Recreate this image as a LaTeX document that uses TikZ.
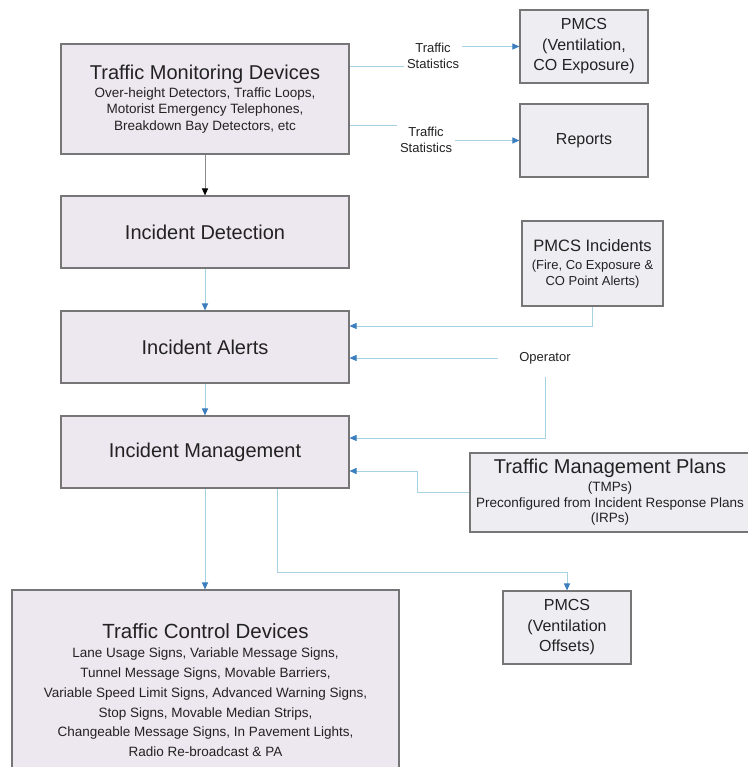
\documentclass[tikz,border=0pt]{standalone}
\usepackage{fontspec}
\setmainfont{Liberation Sans}
\usetikzlibrary{arrows.meta,backgrounds}

\definecolor{boxfill}{HTML}{EDE7F0}
\definecolor{sidefill}{HTML}{EEEDF2}
\definecolor{boxline}{HTML}{767676}
\definecolor{linkblue}{HTML}{A6D2E2}
\definecolor{tipblue}{HTML}{3C7DBE}
\definecolor{inkgray}{HTML}{222222}
\definecolor{darklink}{HTML}{8A8A8A}

\newcommand\fsz[2]{\fontsize{#1}{#2}\selectfont}

\begin{document}
\begin{tikzpicture}[x=1pt,y=-1pt,
  box/.style={draw=boxline, line width=1.1pt, fill=boxfill, text=inkgray,
    align=center, inner sep=0pt},
  sidebox/.style={box, fill=sidefill},
  flow/.style={draw=linkblue, line width=1pt,
    -{Triangle[length=7pt,width=6pt,color=tipblue]}},
  darkflow/.style={draw=darklink, line width=1pt,
    -{Triangle[length=7pt,width=6pt,color=black]}},
  lbl/.style={fill=white, text=inkgray, align=center, inner xsep=3pt,
    inner ysep=2pt, font=\fsz{13}{16}},
]
\useasboundingbox (0,0) rectangle (747,767);

% main column
\node[box, minimum width=288pt, minimum height=110pt, font=\fsz{13.5}{16.5}]
  (tmd) at (205,99) {{\fsz{20}{24}Traffic Monitoring Devices}\\[1pt]
  Over-height Detectors, Traffic Loops,\\
  Motorist Emergency Telephones,\\
  Breakdown Bay Detectors, etc};
\node[box, minimum width=288pt, minimum height=72pt, font=\fsz{20}{24}]
  (id) at (205,232) {Incident Detection};
\node[box, minimum width=288pt, minimum height=72pt, font=\fsz{20}{24}]
  (ia) at (205,347) {Incident Alerts};
\node[box, minimum width=288pt, minimum height=72pt, font=\fsz{20}{24}]
  (im) at (205,452) {Incident Management};
\node[box, minimum width=387pt, minimum height=200pt, font=\fsz{13.5}{19.7}]
  (tcd) at (205.5,690) {{\fsz{20.5}{24}Traffic Control Devices}\\
  Lane Usage Signs, Variable Message Signs,\\
  Tunnel Message Signs, Movable Barriers,\\
  Variable Speed Limit Signs, Advanced Warning Signs,\\
  Stop Signs, Movable Median Strips,\\
  Changeable Message Signs, In Pavement Lights,\\
  Radio Re-broadcast \& PA};

% side boxes
\node[sidebox, minimum width=128pt, minimum height=73pt, font=\fsz{16}{20.5}]
  (pco) at (584,46.5) {PMCS\\(Ventilation,\\CO Exposure)};
\node[sidebox, minimum width=128pt, minimum height=73pt, font=\fsz{16}{20}]
  (rep) at (584,140.5) {Reports};
\node[sidebox, minimum width=141pt, minimum height=85pt, font=\fsz{13}{16}]
  (pinc) at (592.5,263.5) {{\fsz{16.5}{20}PMCS Incidents}\\[1.8pt]
  (Fire, Co Exposure \&\\CO Point Alerts)};
\node[sidebox, minimum width=280pt, minimum height=79pt, font=\fsz{13.5}{15.5}]
  (tmp) at (610,492.5) {{\fsz{20}{24}Traffic Management Plans}\\[2.5pt]
  (TMPs)\\Preconfigured from Incident Response Plans\\(IRPs)};
\node[sidebox, minimum width=128pt, minimum height=73pt, font=\fsz{16}{20.5}]
  (pvo) at (567,627.5) {PMCS\\(Ventilation\\Offsets)};

% connector labels
\node[lbl] (ts1) at (433,56) {Traffic\\Statistics};
\node[lbl] (ts2) at (426,140) {Traffic\\Statistics};
\node[text=inkgray, font=\fsz{13}{16}, minimum width=94pt, minimum height=38pt,
  inner sep=0pt] (op) at (545,358) {Operator};

\begin{pgfonlayer}{background}
  \fill[white] (0,0) rectangle (747,767);
  % statistics feeds
  \draw[flow] ([yshift=32pt]tmd.east) -| (ts1.center) |- (pco.west);
  \draw[flow] ([yshift=-27pt]tmd.east) -| (ts2.center) |- (rep.west);
  % main chain
  \draw[darkflow] (tmd.south) -- (id.north);
  \draw[flow] (id.south) -- (ia.north);
  \draw[flow] (ia.south) -- (im.north);
  \draw[flow] (im.south) -- (im.south |- tcd.north);
  % inputs to alerts and management
  \draw[flow] (pinc.south) |- ([yshift=21pt]ia.east);
  \draw[flow] (op.west) -- (op.west -| ia.east);
  \draw[flow] (op.south) |- ([yshift=14pt]im.east);
  \draw[flow] (tmp.west) -- ++(-52,0) |- ([yshift=-19pt]im.east);
  % ventilation offsets
  \draw[flow] ([xshift=72pt]im.south) -- ++(0,84) -| (pvo.north);
\end{pgfonlayer}
\end{tikzpicture}
\end{document}
